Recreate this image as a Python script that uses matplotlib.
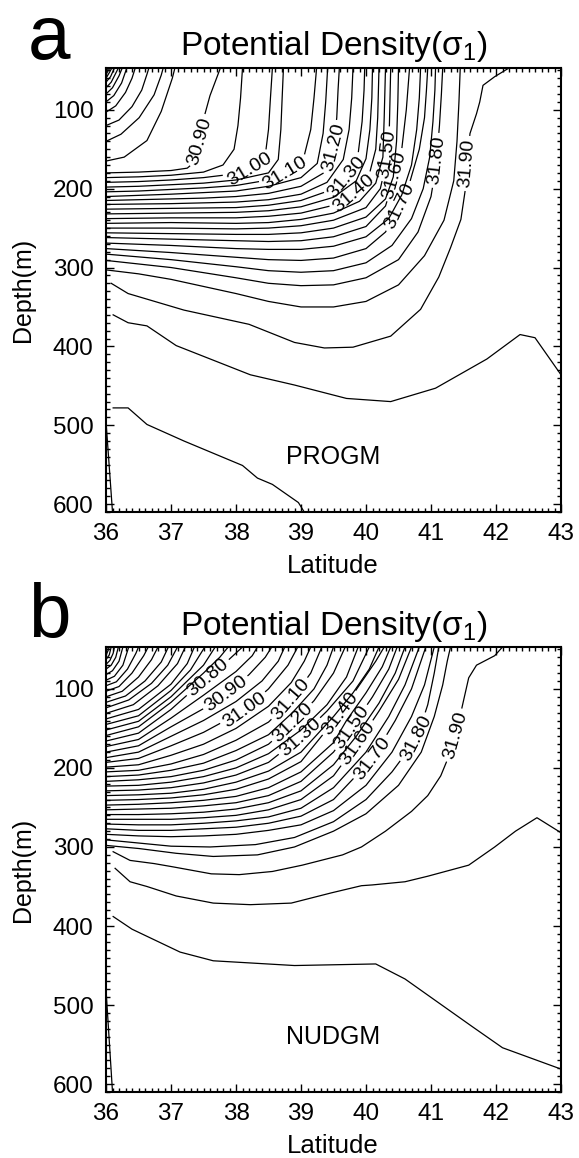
import matplotlib.pyplot as plt
import numpy as np
from matplotlib.ticker import MultipleLocator

plt.rcParams['font.family'] = ['Liberation Sans', 'DejaVu Sans']
plt.rcParams['mathtext.fontset'] = 'custom'
plt.rcParams['mathtext.rm'] = 'Liberation Sans'
plt.rcParams['mathtext.it'] = 'Liberation Sans'
plt.rcParams['mathtext.default'] = 'regular'

lat_ticks = [36, 37, 38, 39, 40, 41, 42, 43]
depth_ticks = [100, 200, 300, 400, 500, 600]

# ---------------- panel a : PROGM  (isopycnals as lat, depth points) -------------
progm_fan_levels = [30.35, 30.40, 30.45, 30.50, 30.55, 30.60, 30.65, 30.70, 30.75, 30.80, 30.85]
progm_fan = [
    [(36.0, 51), (36.03, 47)],
    [(36.0, 55), (36.06, 47)],
    [(36.0, 60), (36.05, 53), (36.09, 47)],
    [(36.0, 65), (36.07, 58), (36.13, 47)],
    [(36.0, 72), (36.08, 65), (36.16, 52), (36.19, 47)],
    [(36.0, 80), (36.1, 72), (36.2, 57), (36.25, 47)],
    [(36.0, 90), (36.12, 82), (36.24, 66), (36.32, 47)],
    [(36.0, 103), (36.15, 95), (36.3, 78), (36.4, 60), (36.45, 47)],
    [(36.0, 120), (36.2, 113), (36.4, 96), (36.55, 75), (36.63, 55), (36.66, 47)],
    [(36.0, 140), (36.23, 131), (36.51, 110), (36.74, 81), (36.85, 56), (36.88, 47)],
    [(36.0, 165), (36.28, 160), (36.63, 139), (36.85, 102), (37.02, 60), (37.06, 47)],
]

progm_band_levels = [30.90, 30.95, 31.00, 31.05, 31.10, 31.15, 31.20, 31.25, 31.30, 31.35,
                     31.40, 31.45, 31.50, 31.55, 31.60, 31.65, 31.70, 31.75, 31.80, 31.85]
progm_band = [
    [(36.0, 180), (36.5, 179), (37.0, 177), (37.25, 174), (37.38, 165), (37.45, 140), (37.5, 112), (37.6, 82), (37.76, 47)],
    [(36.0, 186), (36.5, 185), (37.0, 183), (37.5, 179), (37.8, 170), (37.97, 150), (38.03, 120), (38.07, 85), (38.1, 47)],
    [(36.0, 192), (36.5, 191), (37.0, 189), (37.5, 186), (38.0, 181), (38.3, 173), (38.45, 158), (38.5, 125), (38.53, 85), (38.56, 47)],
    [(36.0, 198), (36.5, 197), (37.0, 195), (37.5, 193), (38.0, 189), (38.5, 180), (38.65, 163), (38.69, 125), (38.71, 85), (38.73, 47)],
    [(36.0, 204), (36.5, 203), (37.0, 201), (37.5, 199), (38.0, 196), (38.5, 189), (38.85, 177), (39.05, 158), (39.15, 125), (39.2, 85), (39.24, 47)],
    [(36.0, 210), (37.0, 207), (37.5, 205), (38.0, 203), (38.5, 197), (39.0, 186), (39.25, 168), (39.34, 130), (39.38, 90), (39.41, 47)],
    [(36.0, 215), (37.0, 213), (37.5, 212), (38.0, 210), (38.5, 206), (39.0, 197), (39.35, 180), (39.5, 152), (39.55, 110), (39.57, 75), (39.59, 47)],
    [(36.0, 220), (37.0, 219), (38.0, 217), (38.5, 214), (39.0, 207), (39.4, 192), (39.65, 163), (39.74, 125), (39.78, 85), (39.8, 47)],
    [(36.0, 226), (37.0, 225), (38.0, 224), (38.5, 221), (39.0, 215), (39.45, 202), (39.72, 184), (39.88, 155), (39.94, 115), (39.97, 75), (39.98, 47)],
    [(36.0, 232), (37.0, 231), (38.0, 230), (38.5, 228), (39.0, 223), (39.5, 211), (39.85, 190), (40.0, 162), (40.06, 125), (40.09, 85), (40.1, 47)],
    [(36.0, 238), (37.0, 237), (38.0, 237), (38.5, 235), (39.0, 231), (39.5, 221), (39.82, 206), (40.05, 182), (40.15, 150), (40.18, 110), (40.2, 47)],
    [(36.0, 244), (37.0, 243), (38.0, 244), (38.5, 243), (39.0, 239), (39.5, 231), (39.9, 216), (40.15, 193), (40.26, 160), (40.28, 110), (40.3, 47)],
    [(36.0, 250), (37.0, 250), (38.0, 251), (38.5, 250), (39.0, 247), (39.5, 240), (40.0, 224), (40.22, 200), (40.32, 165), (40.36, 120), (40.38, 47)],
    [(36.0, 256), (37.0, 257), (38.0, 258), (38.5, 258), (39.0, 256), (39.5, 250), (40.0, 236), (40.3, 213), (40.42, 185), (40.47, 140), (40.49, 90), (40.5, 47)],
    [(36.0, 262), (37.0, 264), (38.0, 266), (38.5, 267), (39.0, 266), (39.5, 261), (40.0, 248), (40.3, 222), (40.42, 190), (40.55, 150), (40.62, 100), (40.67, 47)],
    [(36.0, 269), (37.0, 272), (38.0, 276), (38.5, 277), (39.0, 277), (39.5, 273), (40.0, 261), (40.35, 238), (40.55, 208), (40.7, 170), (40.78, 125), (40.82, 85), (40.84, 47)],
    [(36.0, 276), (37.0, 281), (38.0, 287), (38.5, 290), (39.0, 291), (39.5, 288), (40.0, 276), (40.3, 255), (40.5, 225), (40.68, 190), (40.82, 150), (40.9, 110), (40.93, 75), (40.95, 47)],
    [(36.0, 283), (37.0, 290), (38.0, 299), (38.5, 304), (39.0, 306), (39.5, 304), (40.0, 294), (40.4, 272), (40.7, 238), (40.88, 200), (40.98, 160), (41.03, 115), (41.06, 75), (41.07, 47)],
    [(36.0, 291), (37.0, 300), (38.0, 313), (38.5, 320), (39.0, 323), (39.5, 322), (40.0, 313), (40.5, 290), (40.8, 255), (41.0, 210), (41.08, 170), (41.13, 120), (41.16, 80), (41.18, 47)],
    [(36.0, 303), (36.5, 308), (37.0, 315), (38.0, 333), (38.5, 343), (39.0, 350), (39.5, 350), (40.0, 343), (40.5, 322), (40.9, 285), (41.2, 240), (41.35, 190), (41.4, 140), (41.43, 90), (41.45, 47)],
]

progm_deep_levels = [31.90, 31.95, 32.00, 32.05]
progm_deep = [
    [(36.08, 320), (36.34, 333), (37.2, 354), (38.2, 372), (38.9, 395), (39.36, 402), (39.8, 401), (40.38, 387), (40.84, 353),
     (41.12, 312), (41.3, 275), (41.46, 239), (41.53, 200), (41.55, 168), (41.6, 130), (41.7, 105), (41.75, 90), (41.8, 69),
     (41.98, 58), (42.1, 52), (42.2, 47)],
    [(36.11, 360), (36.34, 370), (36.63, 374), (37.08, 399), (38.22, 436), (38.9, 449), (39.7, 466), (40.38, 470), (41.07, 453),
     (41.86, 416), (42.37, 385), (42.6, 389), (43.0, 436)],
    [(36.11, 478), (36.34, 478), (36.63, 499), (37.2, 520), (38.1, 551), (38.33, 567), (38.56, 575), (38.96, 598), (39.05, 610)],
    [(36.0, 495), (36.1, 610)],
]

progm_labels = [(30.90, (37.46, 140)), (31.00, (38.22, 178)), (31.10, (38.76, 181)), (31.20, (39.53, 148)),
                (31.30, (39.7, 185)), (31.40, (39.82, 207)), (31.50, (40.33, 156)), (31.60, (40.38, 181)),
                (31.70, (40.5, 222)), (31.80, (41.05, 164)), (31.90, (41.55, 168))]

# ---------------- panel b : NUDGM -------------
nudgm_band_levels = [29.95, 30.00, 30.05, 30.10, 30.15, 30.20, 30.25, 30.30, 30.35, 30.40,
                     30.45, 30.50, 30.55, 30.60, 30.65, 30.70, 30.75, 30.80, 30.85, 30.90,
                     30.95, 31.00, 31.05, 31.10, 31.15, 31.20, 31.25, 31.30, 31.35, 31.40,
                     31.45, 31.50, 31.55, 31.60, 31.65, 31.70, 31.75, 31.80, 31.85]
nudgm_band = [
    [(36.0, 52), (36.02, 47)],
    [(36.0, 57), (36.03, 52), (36.05, 47)],
    [(36.0, 63), (36.05, 57), (36.08, 47)],
    [(36.0, 69), (36.06, 64), (36.11, 55), (36.13, 47)],
    [(36.0, 75), (36.08, 70), (36.15, 60), (36.19, 47)],
    [(36.0, 82), (36.1, 77), (36.2, 65), (36.26, 47)],
    [(36.0, 89), (36.13, 84), (36.26, 70), (36.35, 47)],
    [(36.0, 96), (36.16, 91), (36.33, 75), (36.46, 55), (36.5, 47)],
    [(36.0, 103), (36.2, 97), (36.4, 80), (36.58, 58), (36.65, 47)],
    [(36.0, 110), (36.25, 103), (36.5, 85), (36.7, 63), (36.8, 47)],
    [(36.0, 117), (36.3, 109), (36.6, 90), (36.85, 66), (36.96, 47)],
    [(36.0, 124), (36.35, 114), (36.7, 93), (36.95, 70), (37.1, 47)],
    [(36.0, 131), (36.42, 120), (36.8, 96), (37.1, 68), (37.22, 47)],
    [(36.0, 138), (36.5, 126), (37.0, 94), (37.25, 68), (37.36, 47)],
    [(36.0, 145), (36.5, 134), (37.0, 102), (37.3, 76), (37.52, 47)],
    [(36.0, 152), (36.5, 141), (37.0, 110), (37.5, 70), (37.68, 47)],
    [(36.0, 159), (36.5, 148), (37.0, 117), (37.5, 80), (37.75, 60), (37.88, 47)],
    [(36.0, 166), (36.5, 156), (37.0, 126), (37.3, 104), (37.57, 86), (37.85, 66), (38.1, 47)],
    [(36.0, 173), (36.5, 164), (37.0, 137), (37.5, 108), (38.0, 78), (38.25, 58), (38.33, 47)],
    [(36.0, 180), (36.5, 172), (37.0, 148), (37.5, 125), (37.85, 106), (38.2, 82), (38.45, 60), (38.55, 47)],
    [(36.0, 187), (36.5, 180), (37.0, 160), (37.5, 140), (38.0, 116), (38.4, 90), (38.65, 65), (38.75, 47)],
    [(36.0, 193), (36.5, 188), (37.0, 172), (37.5, 155), (38.13, 127), (38.5, 100), (38.8, 70), (38.95, 47)],
    [(36.0, 199), (36.5, 196), (37.0, 184), (37.5, 170), (38.0, 150), (38.5, 122), (38.85, 92), (39.05, 65), (39.15, 47)],
    [(36.0, 205), (36.5, 203), (37.0, 195), (37.5, 183), (38.0, 165), (38.5, 142), (38.85, 114), (39.15, 80), (39.32, 47)],
    [(36.0, 211), (36.5, 209), (37.0, 203), (37.5, 194), (38.0, 178), (38.5, 158), (38.87, 130), (39.2, 100), (39.4, 70), (39.5, 47)],
    [(36.0, 217), (36.5, 215), (37.0, 211), (37.5, 203), (38.0, 190), (38.5, 170), (38.87, 143), (39.2, 115), (39.5, 80), (39.68, 47)],
    [(36.0, 223), (36.5, 222), (37.0, 218), (37.5, 211), (38.0, 200), (38.5, 182), (39.0, 152), (39.4, 120), (39.7, 85), (39.88, 47)],
    [(36.0, 229), (36.5, 228), (37.0, 225), (37.5, 219), (38.0, 209), (38.5, 193), (38.99, 161), (39.4, 128), (39.8, 90), (40.05, 47)],
    [(36.0, 235), (36.5, 234), (37.0, 232), (37.5, 227), (38.0, 218), (38.5, 204), (39.0, 180), (39.5, 135), (39.8, 105), (40.05, 75), (40.2, 47)],
    [(36.0, 241), (36.5, 240), (37.0, 238), (37.5, 234), (38.0, 227), (38.5, 214), (39.0, 192), (39.6, 131), (39.9, 95), (40.15, 65), (40.28, 47)],
    [(36.0, 247), (36.5, 246), (37.0, 244), (37.5, 241), (38.0, 236), (38.5, 225), (39.0, 205), (39.5, 168), (39.7, 140), (40.0, 105), (40.25, 72), (40.38, 47)],
    [(36.0, 253), (36.5, 252), (37.0, 251), (37.5, 248), (38.0, 244), (38.5, 235), (39.0, 217), (39.5, 180), (39.78, 149), (40.1, 110), (40.35, 75), (40.48, 47)],
    [(36.0, 259), (36.5, 259), (37.0, 258), (37.5, 256), (38.0, 252), (38.5, 244), (39.0, 229), (39.5, 196), (39.85, 160), (40.2, 118), (40.45, 80), (40.6, 47)],
    [(36.0, 265), (36.5, 265), (37.0, 265), (37.5, 263), (38.0, 260), (38.5, 253), (39.0, 240), (39.5, 210), (39.87, 169), (40.2, 128), (40.5, 88), (40.7, 47)],
    [(36.0, 271), (36.5, 272), (37.0, 272), (37.5, 270), (38.0, 267), (38.5, 262), (39.0, 251), (39.5, 225), (40.0, 180), (40.35, 135), (40.6, 95), (40.82, 47)],
    [(36.0, 277), (36.5, 279), (37.0, 279), (37.5, 277), (38.0, 275), (38.5, 270), (39.0, 261), (39.5, 240), (40.1, 188), (40.45, 140), (40.7, 100), (40.92, 47)],
    [(36.0, 284), (36.5, 286), (37.0, 287), (37.5, 286), (38.0, 284), (38.5, 279), (39.0, 272), (39.5, 254), (40.0, 222), (40.4, 180), (40.7, 135), (40.9, 95), (41.05, 47)],
    [(36.0, 291), (36.5, 295), (37.0, 299), (37.6, 300), (38.3, 297), (38.9, 288), (39.5, 268), (40.0, 240), (40.4, 205), (40.78, 163), (40.95, 120), (41.05, 80), (41.12, 47)],
    [(36.0, 298), (36.51, 302), (37.08, 308), (37.65, 312), (38.33, 310), (38.9, 300), (39.5, 280), (40.0, 258), (40.5, 222), (40.85, 180), (41.05, 135), (41.18, 95), (41.25, 65), (41.3, 47)],
]

nudgm_deep_levels = [31.90, 31.95, 32.00, 32.05]
nudgm_deep = [
    [(36.11, 306), (36.37, 317), (36.74, 321), (37.02, 325), (37.62, 334), (38.05, 335), (38.56, 331), (39.02, 323), (39.64, 310),
     (39.93, 300), (40.3, 280), (40.7, 255), (40.95, 235), (41.15, 210), (41.3, 180), (41.38, 159), (41.5, 115), (41.58, 86),
     (41.7, 70), (41.98, 58), (42.1, 47)],
    [(36.14, 327), (36.37, 344), (36.63, 350), (37.08, 362), (37.65, 371), (38.22, 373), (38.85, 371), (39.47, 358), (39.93, 349),
     (40.1, 348), (40.6, 344), (40.95, 337), (41.58, 323), (41.98, 300), (42.3, 280), (42.63, 263), (43.0, 282)],
    [(36.11, 388), (36.4, 404), (37.14, 433), (37.65, 444), (38.9, 450), (40.15, 448), (40.6, 467), (41.63, 527), (42.1, 554), (43.0, 581)],
    [(36.0, 480), (36.1, 610)],
]

nudgm_labels = [(30.80, (37.57, 86)), (30.90, (37.85, 106)), (31.00, (38.13, 127)), (31.10, (38.85, 114)),
                (31.20, (38.87, 143)), (31.30, (38.99, 161)), (31.40, (39.6, 131)), (31.50, (39.78, 149)),
                (31.60, (39.87, 169)), (31.70, (40.1, 188)), (31.80, (40.78, 163)), (31.90, (41.38, 159))]

LABEL_SIZE = 14


def cut_for_label(ax, pts, target, half):
    # break a line around its label, working in display pixels
    disp = ax.transData.transform(pts)
    tgt = ax.transData.transform([target])[0]
    seg = np.diff(disp, axis=0)
    seglen = np.hypot(seg[:, 0], seg[:, 1])
    cum = np.concatenate([[0.0], np.cumsum(seglen)])
    best_d, s0 = None, 0.0
    for i in range(len(seg)):
        if seglen[i] == 0:
            continue
        t = np.clip(np.dot(tgt - disp[i], seg[i]) / seglen[i] ** 2, 0, 1)
        p = disp[i] + t * seg[i]
        d = np.hypot(*(p - tgt))
        if best_d is None or d < best_d:
            best_d, s0 = d, cum[i] + t * seglen[i]

    def point_at(s):
        s = np.clip(s, 0, cum[-1])
        i = min(np.searchsorted(cum, s, side='right') - 1, len(seg) - 1)
        t = (s - cum[i]) / seglen[i] if seglen[i] else 0
        return disp[i] + t * seg[i]

    a, b = point_at(s0 - half), point_at(s0 + half)
    left = np.vstack([disp[cum < s0 - half], a])
    right = np.vstack([b, disp[cum > s0 + half]])
    ang = np.degrees(np.arctan2(b[1] - a[1], b[0] - a[0]))
    if ang > 90:
        ang -= 180
    if ang <= -90:
        ang += 180
    inv = ax.transData.inverted()
    return inv.transform(left), inv.transform(right), inv.transform([point_at(s0)])[0], ang


def draw_lines(ax, levels, lines, labels):
    label_at = {round(k, 2): v for k, v in labels}
    for lev, pts in zip(levels, lines):
        pts = np.array(pts, dtype=float)
        key = round(lev, 2)
        if key in label_at:
            text = f'{lev:.2f}'
            half = len(text) * 0.5 * LABEL_SIZE * 100 / 72 * 0.52 + 3
            left, right, c, ang = cut_for_label(ax, pts, label_at[key], half)
            ax.plot(left[:, 0], left[:, 1], color='k', lw=0.9)
            ax.plot(right[:, 0], right[:, 1], color='k', lw=0.9)
            ax.text(c[0], c[1], text, rotation=ang, rotation_mode='anchor',
                    ha='center', va='center', fontsize=LABEL_SIZE)
        else:
            ax.plot(pts[:, 0], pts[:, 1], color='k', lw=0.9)


def setup_axes(ax):
    ax.set_xlim(36, 43)
    ax.set_ylim(610, 47)
    ax.set_xticks(lat_ticks)
    ax.set_yticks(depth_ticks)
    ax.xaxis.set_minor_locator(MultipleLocator(0.1))
    ax.yaxis.set_minor_locator(MultipleLocator(10))
    ax.tick_params(which='both', direction='in', top=True, right=True, width=1.0)
    ax.tick_params(which='major', length=6, labelsize=17.5)
    ax.tick_params(which='minor', length=3)
    ax.tick_params(axis='x', which='major', pad=8)
    ax.tick_params(axis='y', which='major', pad=9)
    for s in ax.spines.values():
        s.set_linewidth(1.5)


fig = plt.figure(figsize=(5.79, 11.58), dpi=100)
ax_a = fig.add_axes([106 / 579, 1 - 512 / 1158, 455 / 579, 444 / 1158])
ax_b = fig.add_axes([106 / 579, 1 - 1092 / 1158, 455 / 579, 445 / 1158])

panels = [
    (ax_a, 'a', 'PROGM', [(progm_fan_levels, progm_fan), (progm_band_levels, progm_band), (progm_deep_levels, progm_deep)], progm_labels),
    (ax_b, 'b', 'NUDGM', [(nudgm_band_levels, nudgm_band), (nudgm_deep_levels, nudgm_deep)], nudgm_labels),
]

for ax, letter, name, groups, labels in panels:
    setup_axes(ax)
    for levels, lines in groups:
        draw_lines(ax, levels, lines, labels)
    ax.set_title(r'Potential Density($\sigma_1$)', fontsize=24, pad=9)
    ax.set_ylabel('Depth(m)', fontsize=18)
    ax.yaxis.set_label_coords(-0.156, 0.5)
    ax.text(39.5, 540, name, ha='center', va='center', fontsize=18)

fig.text(28 / 579, 1 - 59 / 1158, 'a', fontsize=55, ha='left', va='baseline')
fig.text(28 / 579, 1 - 637 / 1158, 'b', fontsize=55, ha='left', va='baseline')
fig.text(333 / 579, 1 - 573 / 1158, 'Latitude', fontsize=18.5, ha='center', va='baseline')
fig.text(333 / 579, 1 - 1153 / 1158, 'Latitude', fontsize=18.5, ha='center', va='baseline')

fig.savefig('out.png', dpi=100)
